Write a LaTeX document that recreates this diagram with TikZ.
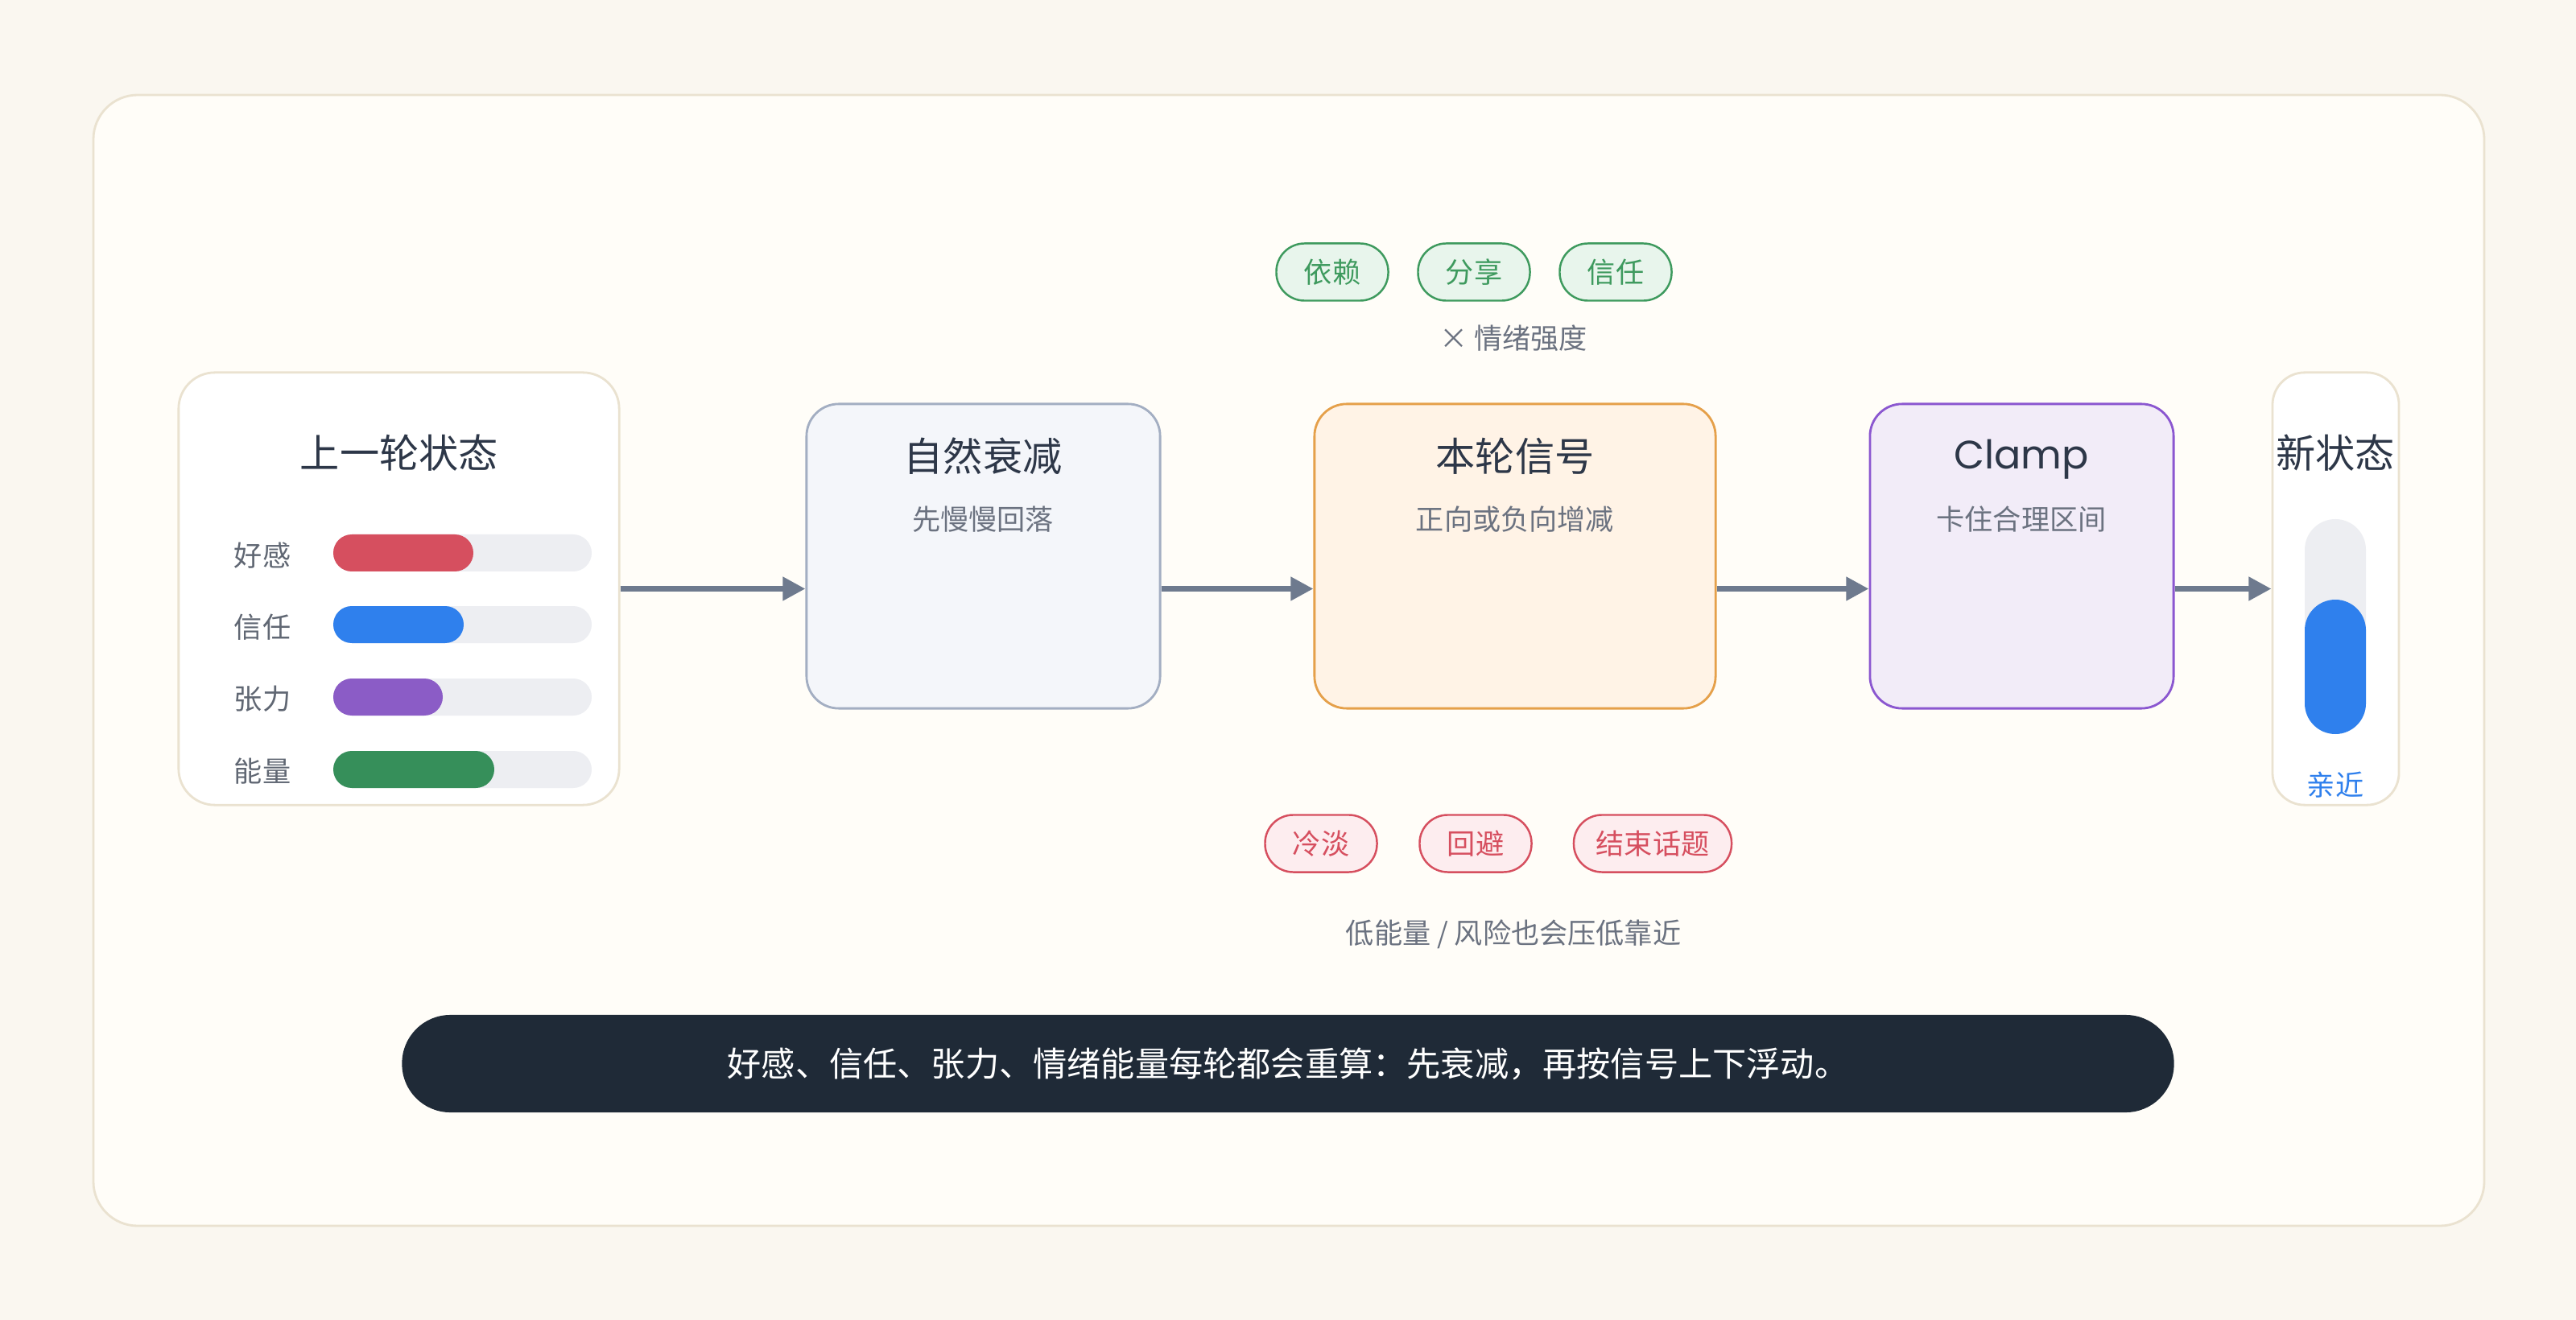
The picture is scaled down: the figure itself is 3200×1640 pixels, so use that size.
\documentclass[tikz,border=0pt]{standalone}
\usepackage{fontspec}
\setmainfont{Noto Sans CJK SC}
\newfontfamily\latinfont{Poppins}
\usepackage{tikz}
\usetikzlibrary{arrows.meta,positioning}
\usepackage{xcolor}
\definecolor{pagebg}{HTML}{FAF7F0}
\definecolor{panelbg}{HTML}{FFFDF8}
\definecolor{panelline}{HTML}{EAE2D0}
\definecolor{ink}{HTML}{2D3748}
\definecolor{muted}{HTML}{6B7280}
\definecolor{flowc}{HTML}{6E7A8E}
\definecolor{track}{HTML}{EDEEF2}
\definecolor{barred}{HTML}{D64F5F}
\definecolor{barblue}{HTML}{2F80ED}
\definecolor{barpurple}{HTML}{8B5CC6}
\definecolor{bargreen}{HTML}{368F5A}
\definecolor{decayfill}{HTML}{F4F6FA}
\definecolor{decayline}{HTML}{A3AEC2}
\definecolor{signalfill}{HTML}{FFF3E6}
\definecolor{signalline}{HTML}{E5A04A}
\definecolor{clampfill}{HTML}{F2ECF8}
\definecolor{clampline}{HTML}{8B57D0}
\definecolor{goodfill}{HTML}{E8F5EC}
\definecolor{goodline}{HTML}{3E9A5E}
\definecolor{badfill}{HTML}{FDEDEF}
\definecolor{badline}{HTML}{D64F5F}
\definecolor{notebg}{HTML}{1F2A37}

\tikzset{
  cardbox/.style={draw=panelline,fill=white,line width=0.8pt,rounded corners=0.45cm,minimum height=5.37cm,inner sep=0pt},
  stagebox/.style={line width=0.8pt,rounded corners=0.4cm,minimum height=3.78cm,inner sep=0pt},
  headtext/.style={font=\fontsize{14}{16}\selectfont,text=ink},
  subtext/.style={font=\fontsize{10}{12}\selectfont,text=muted},
  goodtag/.style={draw=goodline,fill=goodfill,text=goodline,line width=0.7pt,rounded corners=0.35cm,
    minimum height=0.71cm,minimum width=1.39cm,inner sep=0pt,font=\fontsize{10}{12}\selectfont},
  badtag/.style={draw=badline,fill=badfill,text=badline,line width=0.7pt,rounded corners=0.35cm,
    minimum height=0.71cm,minimum width=1.39cm,inner sep=0pt,font=\fontsize{10}{12}\selectfont},
  flow/.style={draw=flowc,line width=2pt,-{Triangle[length=8pt,width=8pt]}}
}

\begin{document}
\begin{tikzpicture}[x=0.01cm,y=-0.01cm]
\fill[pagebg] (0,0) rectangle (3200,1640);
\useasboundingbox (0,0) rectangle (3200,1640);
\draw[panelline,fill=panelbg,line width=0.8pt,rounded corners=0.55cm] (116,118) rectangle (3086,1523);

% previous state
\node[cardbox,minimum width=5.47cm] (prev) at (495.5,731.5) {};
\node[headtext] (prevtitle) at (496,563) {上一轮状态};
\node[subtext,text=muted!90!black] (lblaff) at (326,690) {好感};
\node[subtext,text=muted!90!black] (lbltrust) at (326,779) {信任};
\node[subtext,text=muted!90!black] (lbltens) at (326,868) {张力};
\node[subtext,text=muted!90!black] (lblener) at (326,958) {能量};
\fill[track,rounded corners=0.23cm] (414,664) rectangle (735,710);
\fill[barred,rounded corners=0.23cm] (414,664) rectangle (588,710);
\fill[track,rounded corners=0.23cm] (414,753) rectangle (735,799);
\fill[barblue,rounded corners=0.23cm] (414,753) rectangle (576,799);
\fill[track,rounded corners=0.23cm] (414,843) rectangle (735,889);
\fill[barpurple,rounded corners=0.23cm] (414,843) rectangle (550,889);
\fill[track,rounded corners=0.23cm] (414,933) rectangle (735,979);
\fill[bargreen,rounded corners=0.23cm] (414,933) rectangle (614,979);

% stages
\node[stagebox,draw=decayline,fill=decayfill,minimum width=4.39cm] (decay) at (1221.5,691) {};
\node[headtext] at (1221,567) {自然衰减};
\node[subtext] at (1221,645) {先慢慢回落};

\node[stagebox,draw=signalline,fill=signalfill,minimum width=4.98cm] (signal) at (1882,691) {};
\node[headtext] at (1882,567) {本轮信号};
\node[subtext] at (1882,645) {正向或负向增减};

\node[stagebox,draw=clampline,fill=clampfill,minimum width=3.77cm] (clamp) at (2511.5,691) {};
\node[headtext,font=\latinfont\fontsize{14}{16}\selectfont] at (2511,571) {Clamp};
\node[subtext] at (2511,645) {卡住合理区间};

% new state
\node[cardbox,rounded corners=0.4cm,minimum width=1.57cm] (newst) at (2901.5,731.5) {};
\node[headtext] at (2901,563) {新状态};
\fill[track,rounded corners=0.38cm] (2863,645) rectangle (2939,912);
\fill[barblue,rounded corners=0.38cm] (2863,745) rectangle (2939,912);
\node[subtext,text=barblue] at (2901,975) {亲近};

% connectors
\draw[flow] (prev.east) -- (prev.east -| decay.west);
\draw[flow] (prev.east -| decay.east) -- (prev.east -| signal.west);
\draw[flow] (prev.east -| signal.east) -- (prev.east -| clamp.west);
\draw[flow] (prev.east -| clamp.east) -- (newst.west);

% signal tags
\node[goodtag] (tagdep) at (1655,338) {依赖};
\node[goodtag] (tagshare) at (1831,338) {分享};
\node[goodtag] (tagtrust) at (2007,338) {信任};
\node[subtext] (gain) at (1880,420) {× 情绪强度};
\node[badtag] (tagcold) at (1641,1048) {冷淡};
\node[badtag] (tagavoid) at (1833,1048) {回避};
\node[badtag,minimum width=1.96cm] (tagend) at (2053,1048) {结束话题};
\node[subtext] (risk) at (1880,1161) {低能量 / 风险也会压低靠近};

% summary
\node[fill=notebg,rounded corners=0.6cm,minimum width=22cm,minimum height=1.21cm,inner sep=0pt,
  text=white,font=\fontsize{12}{14}\selectfont] (note) at (1600,1321.5)
  {好感、信任、张力、情绪能量每轮都会重算：先衰减，再按信号上下浮动。};
\end{tikzpicture}
\end{document}
